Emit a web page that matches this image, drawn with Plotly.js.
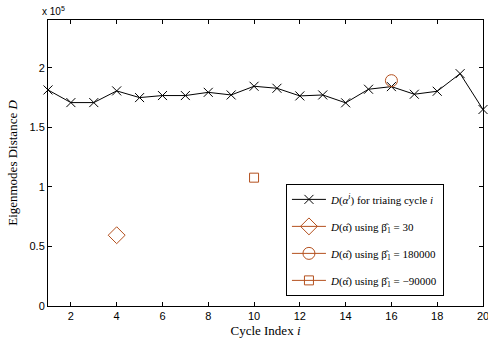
<!DOCTYPE html>
<html>
<head>
<meta charset="utf-8">
<script src="https://cdn.plot.ly/plotly-3.0.1.min.js"></script>
<style>html,body{margin:0;padding:0;background:#fff;}</style>
</head>
<body>
<div id="chart" style="width:488px;height:345px;"></div>
<script>
const cycles = [1,2,3,4,5,6,7,8,9,10,11,12,13,14,15,16,17,18,19,20];
const trainD = [181300,170700,170700,180500,174900,176600,176600,179300,177100,184400,182700,176300,177100,170500,181900,184100,177700,180200,195000,164900];
const betaCycle = [4, 16, 10];
const betaD = [59400, 189100, 107700];
const legendNames = [
  '<i>D</i>(<i>α</i><sup><i>i</i></sup>) for triaing cycle <i>i</i>',
  '<i>D</i>(α̂) using β̂<sub>1</sub> = 30',
  '<i>D</i>(α̂) using β̂<sub>1</sub> = 180000',
  '<i>D</i>(α̂) using β̂<sub>1</sub> = −90000'
];
const yTickVals = [0, 50000, 100000, 150000, 200000];
const yTickText = ['0', '0.5', '1', '1.5', '2'];
const xTickVals = [2,4,6,8,10,12,14,16,18,20];

const brown = '#b4501e';
const symbols = ['diamond-open', 'circle-open', 'square-open'];
const sizes = [13, 12, 9];

const traces = [{
  x: cycles, y: trainD, mode: 'lines+markers', name: legendNames[0],
  line: {color: '#000', width: 1},
  marker: {symbol: 'x-thin-open', size: 9, color: '#000', line: {width: 1, color: '#000'}},
  legendgroup: 'g0', cliponaxis: false
}];
for (let k = 0; k < 3; k++) {
  traces.push({
    x: [betaCycle[k]], y: [betaD[k]], mode: 'lines+markers', name: legendNames[k+1],
    line: {color: brown, width: 1},
    marker: {symbol: symbols[k], size: sizes[k], color: brown, line: {width: 1, color: brown}},
    legendgroup: 'g' + (k+1)
  });
}

const layout = {
  width: 488, height: 345,
  margin: {l: 48, r: 5, t: 20, b: 39},
  paper_bgcolor: '#fff', plot_bgcolor: '#fff',
  showlegend: true,
  font: {family: 'Liberation Sans, Arial, sans-serif', size: 11, color: '#000'},
  xaxis: {
    range: [1, 20], tickvals: xTickVals, ticks: 'inside', ticklen: 4, tickwidth: 1,
    tickcolor: '#000', showline: true, linecolor: '#000', linewidth: 1, mirror: 'ticks',
    showgrid: false, zeroline: false, ticklabeloverflow: 'allow',
    tickfont: {family: 'Liberation Sans, Arial, sans-serif', size: 11},
    title: {text: 'Cycle Index <i>i</i>', font: {family: 'Liberation Serif, DejaVu Serif, serif', size: 13}, standoff: 4}
  },
  yaxis: {
    range: [0, 240000], tickvals: yTickVals, ticktext: yTickText, ticks: 'inside', ticklen: 4, tickwidth: 1,
    tickcolor: '#000', showline: true, linecolor: '#000', linewidth: 1, mirror: 'ticks',
    showgrid: false, zeroline: false,
    tickfont: {family: 'Liberation Sans, Arial, sans-serif', size: 11},
    title: {text: 'Eigenmodes Distance <i>D</i>', font: {family: 'Liberation Serif, DejaVu Serif, serif', size: 13}, standoff: 8}
  },
  legend: {
    x: 0.547, y: 0.427, xanchor: 'left', yanchor: 'top',
    bordercolor: '#000', borderwidth: 1, bgcolor: '#fff',
    font: {family: 'Liberation Serif, DejaVu Serif, serif', size: 11},
    traceorder: 'grouped', tracegroupgap: 8, itemwidth: 34
  },
  annotations: [{
    xref: 'paper', yref: 'paper', x: 0, y: 1, xanchor: 'left', yanchor: 'bottom',
    text: 'x 10<sup>5</sup>', showarrow: false, yshift: 1, xshift: -8,
    font: {family: 'Liberation Sans, Arial, sans-serif', size: 10}
  }]
};

Plotly.newPlot('chart', traces, layout, {displayModeBar: false, staticPlot: true});
</script>
</body>
</html>
